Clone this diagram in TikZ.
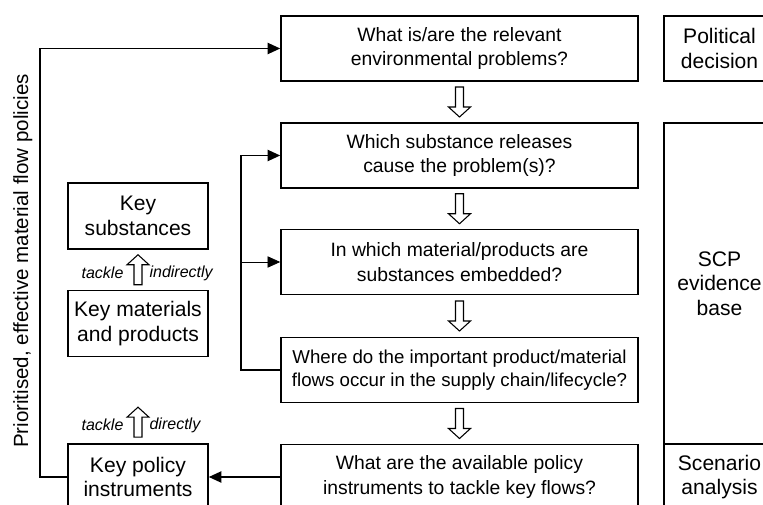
\documentclass[tikz,border=0pt]{standalone}
\usepackage{fontspec}
\setmainfont{Liberation Sans}
\usepackage{tikz}
\usetikzlibrary{arrows.meta, positioning, calc}

\tikzset{
  qbox/.style={draw, line width=1.2pt, minimum width=267.75pt, minimum height=49pt,
    align=center, font=\fontsize{14.5}{18.5}\selectfont},
  sbox/.style={draw, line width=1.2pt, minimum width=105pt, minimum height=49.5pt,
    align=center, font=\fontsize{15.8}{18.5}\selectfont},
  rbox/.style={draw, line width=1.2pt, minimum width=83.25pt, align=center,
    font=\fontsize{15.8}{18.5}\selectfont},
  tag/.style={font=\fontsize{12}{14}\selectfont\itshape, inner sep=1pt},
  link/.style={line width=1.1pt, -{Triangle[length=9.5pt, width=8.5pt]}},
  hollowdown/.pic={
    \draw[line width=0.8pt, fill=white] (-4,-15) -- (4,-15) -- (4,5) -- (11,5)
      -- (0,15) -- (-11,5) -- (-4,5) -- cycle;
  }
}

\begin{document}
\begin{tikzpicture}[x=0.75pt, y=-0.75pt]
  \useasboundingbox (0,0) rectangle (763,505);
  \clip (0,0) rectangle (763,505);

  % questions of the evidence base
  \node[qbox] (q1) at (459.5,48.5) {What is/are the relevant\\environmental problems?};
  \node[qbox] (q2) at (459.5,155.5) {Which substance releases\\cause the problem(s)?};
  \node[qbox] (q3) at (459.5,262) {In which material/products are\\substances embedded?};
  \node[qbox, font=\fontsize{14}{17}\selectfont] (q4) at (459.5,370)
    {Where do the important product/material\\flows occur in the supply chain/lifecycle?};
  \node[qbox] (q5) at (459.5,477) {What are the available policy\\instruments to tackle key flows?};

  \foreach \a/\b in {q1/q2, q2/q3, q3/q4, q4/q5}
    \path ($(\a.south)!0.5!(\b.north)$) pic {hollowdown};

  % right column
  \node[rbox, minimum height=48.75pt] (pol) at (719.5,48.5) {Political\\decision};
  \node[rbox, minimum height=240.75pt] (scp) at (719.5,283.5) {SCP\\evidence\\base};
  \node[rbox, minimum height=49.5pt] (scen) at (719.5,477) {Scenario\\analysis};

  % left column
  \node[sbox] (ks) at (138,216) {Key\\substances};
  \node[sbox] (km) at (138,323.5) {Key materials\\and products};
  \node[sbox] (kp) at (138,477) {Key policy\\instruments};

  \path ($(ks.south)!0.5!(km.north)$) pic[rotate=180] {hollowdown};
  \node[tag, anchor=east] (t1) at (125,273) {tackle};
  \node[tag, anchor=west] (i1) at (148,273) {indirectly};
  \path ($(kp.north)+(0,-21)$) pic[rotate=180] {hollowdown};
  \node[tag, anchor=east] (t2) at (125,425) {tackle};
  \node[tag, anchor=west] (d2) at (148,425) {directly};

  % connectors
  \coordinate (br) at ($(q4.west)+(-39,0)$);
  \draw[link] (q4.west) -- (br) |- (q2.west);
  \draw[link, line width=0.6pt] (br |- q3.west) -- (q3.west);
  \draw[link] (q5.west) -- (kp.east);
  \draw[link] (kp.west) -- ++(-27,0) |- (q1.west);

  \node[rotate=90, anchor=base, font=\fontsize{15.4}{18}\selectfont] (pol-label) at (28,261)
    {Prioritised, effective material flow policies};
\end{tikzpicture}
\end{document}
